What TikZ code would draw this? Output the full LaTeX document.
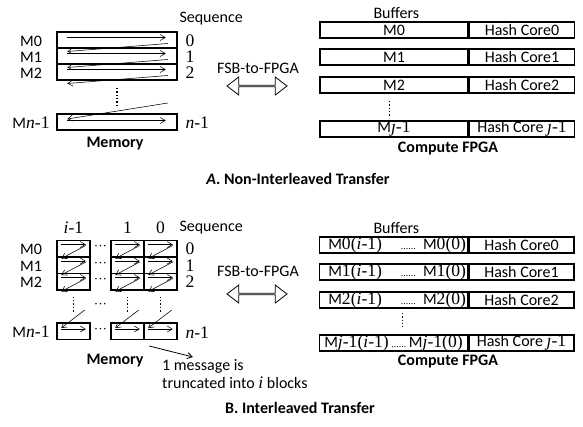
\documentclass[tikz,border=0pt]{standalone}
\usepackage{fontspec}
\setmainfont{Carlito}
\newfontfamily\tnr[Scale=1.1]{Liberation Serif}
\usetikzlibrary{arrows.meta,calc,shapes.arrows}
\newcommand{\tn}[1]{{\tnr #1}}
\newcommand{\ti}[1]{{\tnr\itshape #1}}
\newcommand{\puntitos}{{\fontsize{9}{9}\selectfont\tnr......}}
\newcommand{\medios}{{\fontsize{12}{12}\selectfont\tnr\textperiodcentered\textperiodcentered\textperiodcentered}}

\begin{document}
\begin{tikzpicture}[x=1pt, y=-1pt, font=\fontsize{16}{18}\selectfont,
		>={Straight Barb[length=5pt,width=6pt]},
		fila/.style={draw, line width=1.5pt, minimum width=120pt, minimum height=16pt, inner sep=0pt},
		celda/.style={draw, line width=1.5pt, minimum width=33pt, minimum height=16.5pt, inner sep=0pt},
		buffer/.style={draw, line width=1.5pt, minimum width=148pt, minimum height=16pt, inner sep=0pt},
		nucleo/.style={draw, line width=1.5pt, minimum width=105pt, minimum height=16pt, inner sep=0pt, anchor=west},
		flecha/.style={->, line width=0.55pt},
		puntos/.style={dotted, line width=1.4pt},
		bus/.style={double arrow, draw, line width=0.8pt, minimum height=60pt, minimum width=18pt,
			double arrow head extend=4.5pt, double arrow tip angle=75, inner sep=0pt}]
	\useasboundingbox (0,0) rectangle (583,426);

	% --- A: memoria sin intercalar
	\node[fila] (m0) at (117,40) {};
	\node[fila] (m1) at (117,56) {};
	\node[fila] (m2) at (117,72) {};
	\node[fila] (mn) at (117,122) {};
	\node (lm0) at (31,41) {M0};
	\node (lm1) at (31,57) {M1};
	\node (lm2) at (31,73) {M2};
	\node (lmn) at (31,123) {M\ti{n}\tn{-1}};
	\node[anchor=west] (seqa) at (176,19) {Sequence};
	\node[anchor=west] (sa0) at (182,41) {\tn{0}};
	\node[anchor=west] (sa1) at (182,57) {\tn{1}};
	\node[anchor=west] (sa2) at (182,73) {\tn{2}};
	\node[anchor=west] (san) at (182,123) {\ti{n}\tn{-1}};
	\node (mema) at (115,144) {\textbf{Memory}};

	\foreach \r in {m0,m1,m2} {
		\draw[flecha] ($(\r.west)+(11,-2.5)$) -- ($(\r.east)+(-12,-2.5)$);
		\draw[flecha] ($(\r.east)+(-10,3.5)$) -- ($(\r.west)+(11,11.5)$);
	}
	\draw[flecha] ($(mn.east)+(-10,-19)$) -- ($(mn.west)+(11,-3)$);
	\draw[flecha] ($(mn.west)+(11,-1.5)$) -- ($(mn.east)+(-12,-1.5)$);
	\draw[puntos] ($(m2.south)+(0,7)$) -- ($(mn.north)+(0,-6)$);

	\node (fsba) at (258,68) {FSB-to-FPGA};
	\node[bus] (busa) at (257,86) {};

	\node[anchor=west] (bufa) at (370,13) {Buffers};
	\node[buffer] (bm0) at (394,30) {M0};
	\node[buffer] (bm1) at (394,57) {M1};
	\node[buffer] (bm2) at (394,85) {M2};
	\node[buffer] (bmj) at (394,129) {M\ti{j}\tn{-1}};
	\node[nucleo] (h0) at (bm0.east) {Hash Core0};
	\node[nucleo] (h1) at (bm1.east) {Hash Core1};
	\node[nucleo] (h2) at (bm2.east) {Hash Core2};
	\node[nucleo] (hj) at (bmj.east) {Hash Core \ti{j}\tn{-1}};
	\draw[puntos] ($(bm2.south west)+(70,7)$) -- ($(bmj.north west)+(70,-4)$);
	\node (fpgaa) at (448,149) {\textbf{Compute FPGA}};

	\node (tita) at (298,179) {\textbf{\textit{A}. Non-Interleaved Transfer}};

	% --- B: memoria intercalada, un mensaje en i bloques
	\node[celda] (a0) at (73.5,248.5) {};
	\node[celda] (a1) at (73.5,265) {};
	\node[celda] (a2) at (73.5,281.5) {};
	\node[celda] (an) at (73.5,331) {};
	\node[celda] (b0) at (127.5,248.5) {};
	\node[celda] (b1) at (127.5,265) {};
	\node[celda] (b2) at (127.5,281.5) {};
	\node[celda] (bn) at (127.5,331) {};
	\node[celda] (c0) at (160.5,248.5) {};
	\node[celda] (c1) at (160.5,265) {};
	\node[celda] (c2) at (160.5,281.5) {};
	\node[celda] (cn) at (160.5,331) {};

	\node (ca) at (73.5,228) {\ti{i}\tn{-1}};
	\node (cb) at (127.5,228) {\tn{1}};
	\node (cc) at (160.5,228) {\tn{0}};
	\node[anchor=west] (seqb) at (176,228) {Sequence};
	\node (lb0) at (31,249) {M0};
	\node (lb1) at (31,266) {M1};
	\node (lb2) at (31,282) {M2};
	\node (lbn) at (31,332) {M\ti{n}\tn{-1}};
	\node[anchor=west] (sb0) at (182,249) {\tn{0}};
	\node[anchor=west] (sb1) at (182,266) {\tn{1}};
	\node[anchor=west] (sb2) at (182,282) {\tn{2}};
	\node[anchor=west] (sbn) at (182,333) {\ti{n}\tn{-1}};
	\node (d0) at (100.5,248) {\medios};
	\node (d1) at (100.5,264.5) {\medios};
	\node (d2) at (100.5,281) {\medios};
	\node (dm) at (100.5,306) {\medios};
	\node (dn) at (100.5,330.5) {\medios};

	\foreach \col in {a,b,c} {
		\foreach \r in {0,1,2} {
			\draw[flecha] ($(\col\r.west)+(5,-4)$) -- ($(\col\r.east)+(-5,-4)$);
			\draw[flecha] ($(\col\r.east)+(-5,-3)$) -- ($(\col\r.west)+(5,10)$);
		}
		\draw[flecha] ($(\col n.east)+(-6,-21)$) -- ($(\col n.west)+(5,-3)$);
		\draw[flecha] ($(\col n.west)+(5,-2)$) -- ($(\col n.east)+(-5,-2)$);
		\draw[puntos] ($(\col2.south)+(0,6)$) -- ($(\col n.north)+(0,-9)$);
	}

	\node (memb) at (115,361) {\textbf{Memory}};
	\node[anchor=north west, align=left, inner sep=0pt] (nota) at (162,359)
		{1 message is\\truncated into \ti{i} blocks};
	\draw[->, line width=0.8pt] ($(cn.south west)+(6,6)$) -- ($(nota.north west)+(31,-2)$);

	\node (fsbb) at (258,271) {FSB-to-FPGA};
	\node[bus] (busb) at (257,294) {};

	\node[anchor=west] (bufb) at (370,228) {Buffers};
	\node[buffer] (bb0) at (393.5,245) {};
	\node[buffer] (bb1) at (393.5,272) {};
	\node[buffer] (bb2) at (393.5,300) {};
	\node[buffer] (bbj) at (393.5,343) {M\ti{j}\tn{-1(\ti{i}-1)}\,\puntitos\,M\ti{j}\tn{-1(0)}};
	\node[anchor=west] (ib0) at ($(bb0.west)+(6,0)$) {M\tn{0(\ti{i}-1)}};
	\node[anchor=west] (ib1) at ($(bb1.west)+(6,0)$) {M\tn{1(\ti{i}-1)}};
	\node[anchor=west] (ib2) at ($(bb2.west)+(6,0)$) {M\tn{2(\ti{i}-1)}};
	\node[anchor=east, inner sep=2pt] (fb0) at (bb0.east) {\puntitos\ \ M\tn{0(0)}};
	\node[anchor=east, inner sep=2pt] (fb1) at (bb1.east) {\puntitos\ \ M\tn{1(0)}};
	\node[anchor=east, inner sep=2pt] (fb2) at (bb2.east) {\puntitos\ \ M\tn{2(0)}};
	\node[nucleo] (k0) at (bb0.east) {Hash Core0};
	\node[nucleo] (k1) at (bb1.east) {Hash Core1};
	\node[nucleo] (k2) at (bb2.east) {Hash Core2};
	\node[nucleo] (kj) at (bbj.east) {Hash Core \ti{j}\tn{-1}};
	\draw[puntos] ($(bb2.south west)+(84,4)$) -- ($(bbj.north west)+(84,-7)$);
	\node (fpgab) at (448,362) {\textbf{Compute FPGA}};

	\node (titb) at (300,408) {\textbf{B. Interleaved Transfer}};
\end{tikzpicture}
\end{document}
